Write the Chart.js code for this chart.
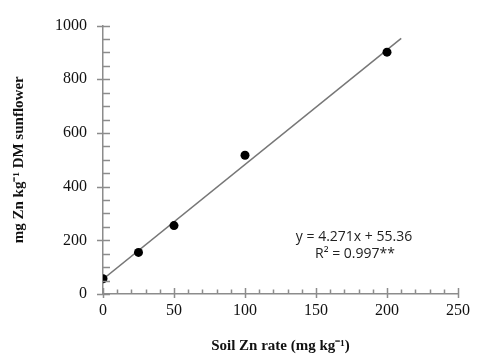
<!DOCTYPE html>
<html>
<head>
<meta charset="utf-8">
<script src="https://cdn.jsdelivr.net/npm/chart.js@4/dist/chart.umd.min.js"></script>
<style>
  html, body { margin: 0; padding: 0; background: #fff; }
  #wrap { width: 477px; height: 355px; }
</style>
</head>
<body>
<div id="wrap"><canvas id="chart"></canvas></div>
<script>
"use strict";

// measured points (soil Zn rate vs Zn in sunflower DM)
const znRate = [0, 25, 50, 100, 200];
const znPlant = [57, 155, 255, 517, 901];

// fitted line end points (y = 4.271x + 55.36)
const fitX = [0, 210];
const fitY = [55.4, 952.3];

const eqLines = ['y = 4.271x + 55.36', 'R\u00b2 = 0.997**'];

const axisGray = '#8c8c8c';
const serif = '"Liberation Serif", "Times New Roman", serif';

const tickPlugin = {
  id: 'ticks',
  afterDatasetsDraw(chart) {
    const ctx = chart.ctx;
    const x = chart.scales.x, y = chart.scales.y;
    const x0 = x.getPixelForValue(0), y0 = y.getPixelForValue(0);
    ctx.save();
    ctx.strokeStyle = axisGray;
    ctx.lineWidth = 1.5;
    ctx.beginPath();
    // y ticks every 50, major every 200
    for (let v = 0; v <= 1000; v += 50) {
      const p = Math.round(y.getPixelForValue(v)) + 0.5;
      const major = v % 200 === 0;
      ctx.moveTo(major ? x0 - 6 : x0, p);
      ctx.lineTo(x0 + 7, p);
    }
    // x ticks every 10, major every 50
    for (let v = 0; v <= 250; v += 10) {
      const p = Math.round(x.getPixelForValue(v)) + 0.5;
      const major = v % 50 === 0;
      ctx.moveTo(p, y0 - (major ? 6 : 4.5));
      ctx.lineTo(p, major ? y0 + 4 : y0);
    }
    ctx.stroke();

    // regression equation
    ctx.fillStyle = '#222';
    ctx.font = '14px "Open Sans", sans-serif';
    ctx.textAlign = 'center';
    ctx.textBaseline = 'middle';
    ctx.fillText(eqLines[0], 354, 237);
    ctx.fillText(eqLines[1], 355, 254);
    ctx.restore();
  }
};

new Chart(document.getElementById('chart'), {
  type: 'scatter',
  data: {
    datasets: [
      {
        data: znRate.map((r, i) => ({ x: r, y: znPlant[i] })),
        backgroundColor: '#000',
        borderWidth: 0,
        pointRadius: 4.5,
        order: 1
      },
      {
        type: 'line',
        data: fitX.map((r, i) => ({ x: r, y: fitY[i] })),
        borderColor: '#777',
        borderWidth: 1.5,
        pointRadius: 0,
        fill: false,
        order: 2
      }
    ]
  },
  options: {
    responsive: true,
    maintainAspectRatio: false,
    animation: false,
    events: [],
    layout: { padding: { left: 0, right: 13, top: 12.4, bottom: 0 } },
    plugins: { legend: { display: false }, tooltip: { enabled: false } },
    scales: {
      x: {
        type: 'linear',
        min: 0,
        max: 250,
        afterFit(scale) { scale.height = 61; },
        grid: { display: false, drawTicks: false, tickLength: 0 },
        border: { display: true, color: axisGray, width: 1.5 },
        ticks: {
          stepSize: 50,
          padding: 7,
          color: '#111',
          font: { family: serif, size: 16 }
        },
        title: {
          display: true,
          text: 'Soil Zn rate (mg kg\u207b\u00b9)',
          color: '#111',
          padding: { top: 0, bottom: 0 },
          font: { family: serif, size: 15, weight: 'bold' }
        }
      },
      y: {
        min: 0,
        max: 1000,
        afterFit(scale) { scale.width = 103; },
        grid: { display: false, drawTicks: false, tickLength: 0 },
        border: { display: true, color: axisGray, width: 1.5 },
        ticks: {
          stepSize: 200,
          padding: 16,
          color: '#111',
          callback: (v) => String(v),
          font: { family: serif, size: 16 }
        },
        title: {
          display: true,
          text: 'mg Zn kg\u207b\u00b9 DM sunflower',
          color: '#111',
          padding: { top: 10, bottom: 0 },
          font: { family: serif, size: 15, weight: 'bold' }
        }
      }
    }
  },
  plugins: [tickPlugin]
});
</script>
</body>
</html>
